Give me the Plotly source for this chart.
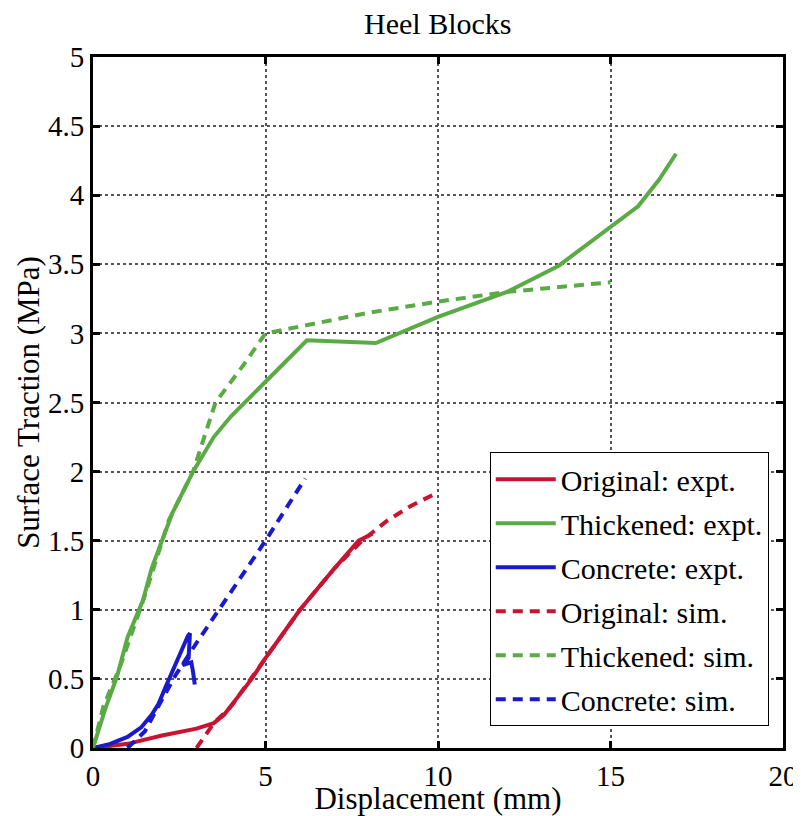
import plotly.graph_objects as go

# displacement (mm) / surface traction (MPa)
orig_expt_x = [0, 1.0, 2.0, 3.0, 3.5, 3.8, 4.2, 4.6, 5.0, 6.0, 7.0, 7.7, 8.1]
orig_expt_y = [0, 0.03, 0.09, 0.14, 0.18, 0.24, 0.37, 0.5, 0.65, 1.0, 1.3, 1.5, 1.55]

thick_expt_x = [0, 0.35, 0.7, 1.0, 1.45, 1.7, 2.3, 2.9, 3.5, 4.0, 5.0, 6.2, 8.2, 10.0, 12.0, 13.5, 15.8, 16.4, 16.9]
thick_expt_y = [0, 0.28, 0.52, 0.8, 1.07, 1.3, 1.7, 2.0, 2.25, 2.4, 2.65, 2.95, 2.93, 3.12, 3.3, 3.49, 3.92, 4.11, 4.3]

conc_expt_x = [0, 0.5, 1.0, 1.4, 1.7, 1.9, 2.1, 2.3, 2.5, 2.65, 2.75, 2.81, 2.77, 2.6, 2.85, 2.9, 2.95]
conc_expt_y = [0, 0.03, 0.08, 0.15, 0.24, 0.32, 0.44, 0.55, 0.67, 0.76, 0.81, 0.83, 0.65, 0.6, 0.62, 0.55, 0.46]

orig_sim_x = [3.0, 3.5, 4.0, 4.5, 5.0, 6.0, 7.0, 7.8, 8.5, 9.2, 10.0]
orig_sim_y = [0, 0.18, 0.3, 0.47, 0.65, 1.0, 1.3, 1.5, 1.64, 1.75, 1.85]

thick_sim_x = [0, 0.3, 0.8, 1.5, 2.2, 2.9, 3.55, 4.3, 5.0, 6.0, 8.0, 10.0, 12.0, 15.0]
thick_sim_y = [0, 0.3, 0.6, 1.1, 1.65, 2.0, 2.5, 2.75, 3.0, 3.05, 3.15, 3.23, 3.3, 3.37]

conc_sim_x = [1.0, 1.5, 2.0, 2.4, 3.0, 4.0, 5.0, 6.15]
conc_sim_y = [0, 0.12, 0.35, 0.53, 0.76, 1.13, 1.5, 1.95]

RED = "#c81432"
GREEN = "#5aaa46"
BLUE = "#1a1acc"

series = [
    ("Original: expt.", orig_expt_x, orig_expt_y, RED, "solid"),
    ("Thickened: expt.", thick_expt_x, thick_expt_y, GREEN, "solid"),
    ("Concrete: expt.", conc_expt_x, conc_expt_y, BLUE, "solid"),
    ("Original: sim.", orig_sim_x, orig_sim_y, RED, "10px,7px"),
    ("Thickened: sim.", thick_sim_x, thick_sim_y, GREEN, "10px,7px"),
    ("Concrete: sim.", conc_sim_x, conc_sim_y, BLUE, "10px,7px"),
]

fig = go.Figure()
for i, (name, x, y, col, dash) in enumerate(series):
    fig.add_trace(go.Scatter(x=x, y=y, mode="lines", name=name, legendgroup=str(i),
                             line=dict(color=col, width=4, dash=dash)))

font = "Liberation Serif, Times New Roman, serif"
FS = 29
axis_common = dict(
    showline=True, linewidth=3, linecolor="black", mirror="ticks",
    ticks="inside", ticklen=7, tickwidth=3, tickcolor="black",
    showgrid=True, gridcolor="#555555", griddash="dot", gridwidth=1.5,
    zeroline=False, automargin=False,
    tickfont=dict(family=font, size=FS, color="black"),
)

# page body has an 8px margin, so the figure is sized to fit the window
fig.update_layout(
    width=793, height=808,
    paper_bgcolor="white", plot_bgcolor="white",
    margin=dict(l=85, r=18, t=49, b=68),
    title=dict(text="Heel Blocks", x=0.542, xanchor="center",
               y=0.981, yanchor="middle",
               font=dict(family=font, size=30, color="black")),
    font=dict(family=font, size=FS, color="black"),
    xaxis=dict(range=[0, 20], tickvals=[0, 5, 10, 15, 20],
               title=dict(text="Displacement (mm)", standoff=0,
                          font=dict(family=font, size=31)),
               **axis_common),
    yaxis=dict(range=[0, 5], tickvals=[0, 0.5, 1, 1.5, 2, 2.5, 3, 3.5, 4, 4.5, 5],
               ticktext=["0", "0.5", "1", "1.5", "2", "2.5", "3", "3.5", "4", "4.5", "5"],
               title=dict(text="Surface Traction (MPa)", standoff=0,
                          font=dict(family=font, size=31)),
               **axis_common),
    legend=dict(x=0.575, y=0.428, xanchor="left", yanchor="top",
                bgcolor="white", bordercolor="black", borderwidth=1,
                font=dict(family=font, size=30, color="black"),
                tracegroupgap=2, itemwidth=60),
    showlegend=True,
)

fig.write_html("out.html")
